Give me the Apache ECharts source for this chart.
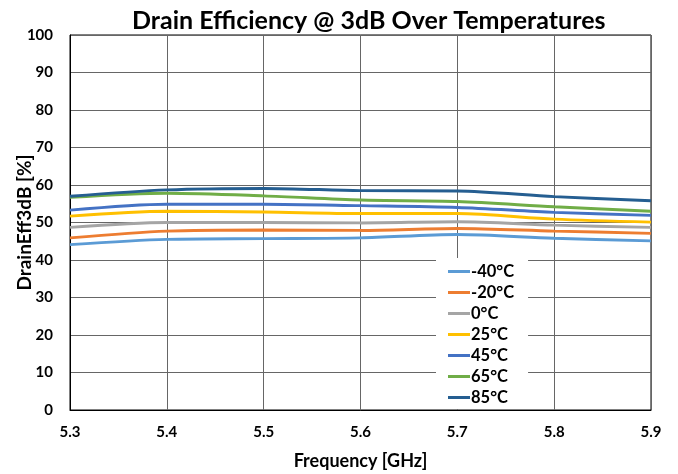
<!DOCTYPE html>
<html><head><meta charset="utf-8">
<script src="https://cdn.jsdelivr.net/npm/echarts@6/dist/echarts.min.js"></script>
<style>html,body{margin:0;padding:0;background:#fff}#c{width:678px;height:474px}</style>
</head><body><div id="c"></div>
<script>
var freqs = [5.3, 5.4, 5.5, 5.6, 5.7, 5.8, 5.9];
var tM40 = [44.1, 45.5, 45.7, 45.9, 46.8, 45.8, 45.1];
var tM20 = [45.9, 47.7, 48.0, 47.9, 48.4, 47.7, 47.1];
var t0   = [48.7, 50.0, 50.0, 49.9, 50.2, 49.3, 48.7];
var t25  = [51.7, 53.0, 52.8, 52.4, 52.4, 50.9, 50.1];
var t45  = [53.3, 54.9, 54.9, 54.5, 54.0, 52.7, 51.9];
var t65  = [56.7, 57.8, 57.1, 56.0, 55.6, 54.2, 53.0];
var t85  = [57.0, 58.7, 59.1, 58.5, 58.4, 56.9, 55.8];
var names = ['-40°C', '-20°C', '0°C', '25°C', '45°C', '65°C', '85°C'];
var colors = ['#5B9BD5', '#ED7D31', '#A5A5A5', '#FFC000', '#4472C4', '#70AD47', '#255E91'];
var allData = [tM40, tM20, t0, t25, t45, t65, t85];

var FONT = 'Lato';
var series = allData.map(function (d, i) {
  return {
    name: names[i], type: 'line', smooth: 0.3, symbol: 'none',
    data: d.map(function (v, j) { return [freqs[j], v]; }),
    lineStyle: { width: 3, color: colors[i] }, itemStyle: { color: colors[i] }
  };
});

var chart = echarts.init(document.getElementById('c'));
chart.setOption({
  backgroundColor: '#fff',
  animation: false,
  title: {
    text: 'Drain Efficiency @ 3dB Over Temperatures', left: 127, top: 3,
    textStyle: { fontFamily: FONT, fontWeight: 'bold', fontSize: 25, color: '#000' }
  },
  grid: { left: 70, right: 27, top: 35, bottom: 64, containLabel: false, outerBoundsMode: 'none',
    show: true, borderColor: '#000', borderWidth: 1 },
  legend: {
    orient: 'vertical', left: 436, top: 258, itemGap: 4, itemWidth: 22, itemHeight: 14,
    backgroundColor: '#fff', padding: [5, 14, 3, 12],
    icon: 'path://M0,0 L22,0 L22,3 L0,3 Z',
    textStyle: { fontFamily: FONT, fontWeight: 'bold', fontSize: 16.5, lineHeight: 17, color: '#000', padding: [0, 0, 0, -4] },
    data: names
  },
  xAxis: {
    type: 'value', min: 5.3, max: 5.9, interval: 0.1,
    name: 'Frequency [GHz]', nameLocation: 'middle', nameGap: 42, nameMoveOverlap: false,
    nameTextStyle: { fontFamily: FONT, fontWeight: 'bold', fontSize: 18, color: '#000' },
    axisLine: { lineStyle: { color: '#000', width: 1 } },
    axisTick: { show: false },
    axisLabel: { fontFamily: FONT, fontWeight: 'bold', fontSize: 15, color: '#000', margin: 15,
      formatter: function (v) { return v.toFixed(1); } },
    splitLine: { show: true, lineStyle: { color: '#666666', width: 1 } }
  },
  yAxis: {
    type: 'value', min: 0, max: 100, interval: 10,
    name: 'DrainEff3dB [%]', nameLocation: 'middle', nameGap: 36, nameRotate: 90, nameMoveOverlap: false,
    nameTextStyle: { fontFamily: FONT, fontWeight: 'bold', fontSize: 19, color: '#000' },
    axisLine: { show: true, lineStyle: { color: '#000', width: 1 } },
    axisTick: { show: false },
    axisLabel: { fontFamily: FONT, fontWeight: 'bold', fontSize: 15, color: '#000', margin: 17 },
    splitLine: { show: true, lineStyle: { color: '#666666', width: 1 } }
  },
  series: series
});
</script></body></html>
